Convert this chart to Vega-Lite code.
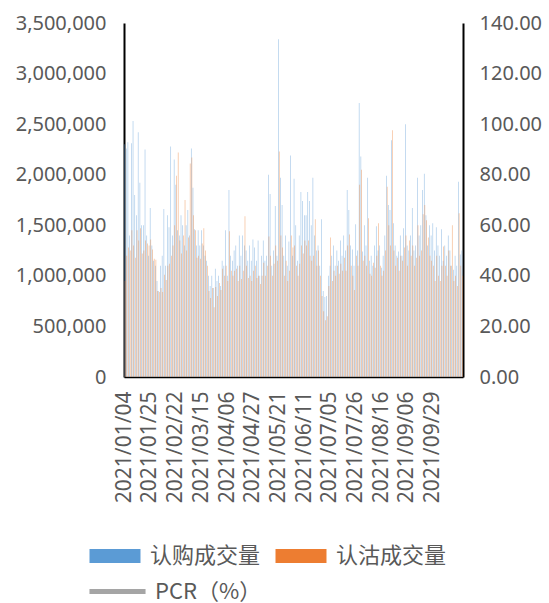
{
"$schema": "https://vega.github.io/schema/vega-lite/v6.json",
"width": 339,
"height": 354,
"autosize": {"type": "none"},
"padding": {"left": 124, "top": 23, "right": 86, "bottom": 226},
"background": "white",
"config": {"view": {"stroke": null}, "font": "Noto Sans"},
"data": {"values": [
{"d":"2021/01/04","call":2300000,"put":950000},
{"d":"2021/01/05","call":2260000,"put":1200000},
{"d":"2021/01/06","call":2320000,"put":1280000},
{"d":"2021/01/07","call":1400000,"put":1250000},
{"d":"2021/01/08","call":2310000,"put":1450000},
{"d":"2021/01/11","call":2530000,"put":1300000},
{"d":"2021/01/12","call":1800000,"put":1180000},
{"d":"2021/01/13","call":1600000,"put":1450000},
{"d":"2021/01/14","call":2420000,"put":1350000},
{"d":"2021/01/15","call":1920000,"put":1470000},
{"d":"2021/01/18","call":1500000,"put":1220000},
{"d":"2021/01/19","call":1500000,"put":1250000},
{"d":"2021/01/20","call":2250000,"put":1350000},
{"d":"2021/01/21","call":1400000,"put":1320000},
{"d":"2021/01/22","call":1200000,"put":1300000},
{"d":"2021/01/25","call":1670000,"put":1360000},
{"d":"2021/01/26","call":1300000,"put":1260000},
{"d":"2021/01/27","call":1150000,"put":1170000},
{"d":"2021/01/28","call":1100000,"put":1160000},
{"d":"2021/01/29","call":950000,"put":850000},
{"d":"2021/02/01","call":850000,"put":840000},
{"d":"2021/02/02","call":1100000,"put":880000},
{"d":"2021/02/03","call":1200000,"put":840000},
{"d":"2021/02/04","call":1660000,"put":1010000},
{"d":"2021/02/05","call":1100000,"put":960000},
{"d":"2021/02/08","call":1600000,"put":1100000},
{"d":"2021/02/09","call":1480000,"put":1120000},
{"d":"2021/02/10","call":2280000,"put":1200000},
{"d":"2021/02/18","call":1400000,"put":1300000},
{"d":"2021/02/19","call":2150000,"put":1500000},
{"d":"2021/02/22","call":1900000,"put":1990000},
{"d":"2021/02/23","call":1450000,"put":2220000},
{"d":"2021/02/24","call":1400000,"put":1350000},
{"d":"2021/02/25","call":1600000,"put":1220000},
{"d":"2021/02/26","call":1500000,"put":1400000},
{"d":"2021/03/01","call":1300000,"put":1750000},
{"d":"2021/03/02","call":1500000,"put":1250000},
{"d":"2021/03/03","call":1650000,"put":1380000},
{"d":"2021/03/04","call":1400000,"put":2110000},
{"d":"2021/03/05","call":2260000,"put":2170000},
{"d":"2021/03/08","call":1870000,"put":1600000},
{"d":"2021/03/09","call":1460000,"put":1450000},
{"d":"2021/03/10","call":1300000,"put":1180000},
{"d":"2021/03/11","call":1450000,"put":1200000},
{"d":"2021/03/12","call":1300000,"put":1170000},
{"d":"2021/03/15","call":1450000,"put":1320000},
{"d":"2021/03/16","call":1300000,"put":1470000},
{"d":"2021/03/17","call":1200000,"put":1250000},
{"d":"2021/03/18","call":1150000,"put":1100000},
{"d":"2021/03/19","call":1000000,"put":850000},
{"d":"2021/03/22","call":900000,"put":780000},
{"d":"2021/03/23","call":1000000,"put":880000},
{"d":"2021/03/24","call":880000,"put":690000},
{"d":"2021/03/25","call":1070000,"put":890000},
{"d":"2021/03/26","call":950000,"put":800000},
{"d":"2021/03/29","call":1000000,"put":930000},
{"d":"2021/03/30","call":900000,"put":860000},
{"d":"2021/03/31","call":1150000,"put":1070000},
{"d":"2021/04/01","call":1100000,"put":1000000},
{"d":"2021/04/02","call":1450000,"put":1100000},
{"d":"2021/04/06","call":1000000,"put":950000},
{"d":"2021/04/07","call":1850000,"put":1440000},
{"d":"2021/04/08","call":1200000,"put":1050000},
{"d":"2021/04/09","call":1150000,"put":1000000},
{"d":"2021/04/12","call":1250000,"put":1050000},
{"d":"2021/04/13","call":1300000,"put":1070000},
{"d":"2021/04/14","call":1100000,"put":950000},
{"d":"2021/04/15","call":1400000,"put":1100000},
{"d":"2021/04/16","call":1200000,"put":970000},
{"d":"2021/04/19","call":1400000,"put":1050000},
{"d":"2021/04/20","call":1300000,"put":1590000},
{"d":"2021/04/21","call":1250000,"put":1100000},
{"d":"2021/04/22","call":1150000,"put":980000},
{"d":"2021/04/23","call":1300000,"put":1000000},
{"d":"2021/04/26","call":1150000,"put":950000},
{"d":"2021/04/27","call":1360000,"put":1050000},
{"d":"2021/04/28","call":1280000,"put":1100000},
{"d":"2021/04/29","call":1150000,"put":980000},
{"d":"2021/04/30","call":1350000,"put":1000000},
{"d":"2021/05/06","call":1000000,"put":920000},
{"d":"2021/05/07","call":1200000,"put":1000000},
{"d":"2021/05/10","call":1350000,"put":1130000},
{"d":"2021/05/11","call":1150000,"put":1000000},
{"d":"2021/05/12","call":1200000,"put":1100000},
{"d":"2021/05/13","call":2000000,"put":1390000},
{"d":"2021/05/14","call":1810000,"put":1200000},
{"d":"2021/05/17","call":1100000,"put":1000000},
{"d":"2021/05/18","call":1250000,"put":1120000},
{"d":"2021/05/19","call":1690000,"put":1300000},
{"d":"2021/05/20","call":1200000,"put":1150000},
{"d":"2021/05/21","call":3340000,"put":2230000},
{"d":"2021/05/24","call":1970000,"put":1400000},
{"d":"2021/05/25","call":1700000,"put":1280000},
{"d":"2021/05/26","call":1200000,"put":1000000},
{"d":"2021/05/27","call":1400000,"put":1150000},
{"d":"2021/05/28","call":1100000,"put":950000},
{"d":"2021/05/31","call":1340000,"put":1050000},
{"d":"2021/06/01","call":2190000,"put":1400000},
{"d":"2021/06/02","call":1200000,"put":1280000},
{"d":"2021/06/03","call":1960000,"put":1300000},
{"d":"2021/06/04","call":1500000,"put":1100000},
{"d":"2021/06/07","call":1150000,"put":1000000},
{"d":"2021/06/08","call":1400000,"put":1120000},
{"d":"2021/06/09","call":1830000,"put":1300000},
{"d":"2021/06/10","call":1740000,"put":1220000},
{"d":"2021/06/11","call":1600000,"put":1350000},
{"d":"2021/06/15","call":1600000,"put":1300000},
{"d":"2021/06/16","call":1830000,"put":1350000},
{"d":"2021/06/17","call":1740000,"put":1200000},
{"d":"2021/06/18","call":1500000,"put":1150000},
{"d":"2021/06/21","call":1970000,"put":1200000},
{"d":"2021/06/22","call":1400000,"put":1560000},
{"d":"2021/06/23","call":1250000,"put":1100000},
{"d":"2021/06/24","call":1300000,"put":1250000},
{"d":"2021/06/25","call":1100000,"put":1000000},
{"d":"2021/06/28","call":1560000,"put":800000},
{"d":"2021/06/29","call":850000,"put":650000},
{"d":"2021/06/30","call":790000,"put":560000},
{"d":"2021/07/01","call":800000,"put":600000},
{"d":"2021/07/02","call":1000000,"put":900000},
{"d":"2021/07/05","call":1100000,"put":1380000},
{"d":"2021/07/06","call":1200000,"put":950000},
{"d":"2021/07/07","call":1300000,"put":1050000},
{"d":"2021/07/08","call":1100000,"put":1000000},
{"d":"2021/07/09","call":1250000,"put":1100000},
{"d":"2021/07/12","call":1150000,"put":1020000},
{"d":"2021/07/13","call":1350000,"put":1120000},
{"d":"2021/07/14","call":1200000,"put":1050000},
{"d":"2021/07/15","call":1400000,"put":1180000},
{"d":"2021/07/16","call":1250000,"put":1050000},
{"d":"2021/07/19","call":1850000,"put":1300000},
{"d":"2021/07/20","call":1650000,"put":1410000},
{"d":"2021/07/21","call":1300000,"put":1100000},
{"d":"2021/07/22","call":1260000,"put":1000000},
{"d":"2021/07/23","call":1100000,"put":860000},
{"d":"2021/07/26","call":1510000,"put":1200000},
{"d":"2021/07/27","call":1250000,"put":1100000},
{"d":"2021/07/28","call":2710000,"put":1900000},
{"d":"2021/07/29","call":2180000,"put":2050000},
{"d":"2021/07/30","call":1240000,"put":1150000},
{"d":"2021/08/02","call":1500000,"put":1200000},
{"d":"2021/08/03","call":1300000,"put":1100000},
{"d":"2021/08/04","call":1970000,"put":1570000},
{"d":"2021/08/05","call":1150000,"put":1020000},
{"d":"2021/08/06","call":1200000,"put":1000000},
{"d":"2021/08/09","call":1100000,"put":1130000},
{"d":"2021/08/10","call":1300000,"put":1080000},
{"d":"2021/08/11","call":1490000,"put":1200000},
{"d":"2021/08/12","call":1250000,"put":1520000},
{"d":"2021/08/13","call":1300000,"put":1100000},
{"d":"2021/08/16","call":1080000,"put":1000000},
{"d":"2021/08/17","call":1200000,"put":1050000},
{"d":"2021/08/18","call":1400000,"put":1250000},
{"d":"2021/08/19","call":1990000,"put":1880000},
{"d":"2021/08/20","call":1700000,"put":1500000},
{"d":"2021/08/23","call":1650000,"put":1300000},
{"d":"2021/08/24","call":2340000,"put":2440000},
{"d":"2021/08/25","call":1520000,"put":1250000},
{"d":"2021/08/26","call":1300000,"put":1100000},
{"d":"2021/08/27","call":1200000,"put":1180000},
{"d":"2021/08/30","call":1240000,"put":1050000},
{"d":"2021/08/31","call":1400000,"put":1200000},
{"d":"2021/09/01","call":1200000,"put":1150000},
{"d":"2021/09/02","call":1470000,"put":1280000},
{"d":"2021/09/03","call":2500000,"put":1400000},
{"d":"2021/09/06","call":1300000,"put":1100000},
{"d":"2021/09/07","call":1250000,"put":1350000},
{"d":"2021/09/08","call":1400000,"put":1200000},
{"d":"2021/09/09","call":1670000,"put":1300000},
{"d":"2021/09/10","call":1250000,"put":1100000},
{"d":"2021/09/13","call":1300000,"put":1180000},
{"d":"2021/09/14","call":1970000,"put":1500000},
{"d":"2021/09/15","call":1400000,"put":1200000},
{"d":"2021/09/16","call":1500000,"put":1250000},
{"d":"2021/09/17","call":1850000,"put":1610000},
{"d":"2021/09/22","call":2010000,"put":1700000},
{"d":"2021/09/23","call":1600000,"put":1550000},
{"d":"2021/09/24","call":1300000,"put":1380000},
{"d":"2021/09/27","call":1500000,"put":1200000},
{"d":"2021/09/28","call":1400000,"put":1150000},
{"d":"2021/09/29","call":1520000,"put":1100000},
{"d":"2021/09/30","call":1250000,"put":950000},
{"d":"2021/10/08","call":1480000,"put":1200000},
{"d":"2021/10/11","call":1300000,"put":1000000},
{"d":"2021/10/12","call":1200000,"put":950000},
{"d":"2021/10/13","call":1460000,"put":1100000},
{"d":"2021/10/14","call":1150000,"put":1290000},
{"d":"2021/10/15","call":1300000,"put":1100000},
{"d":"2021/10/18","call":1200000,"put":1000000},
{"d":"2021/10/19","call":1400000,"put":1250000},
{"d":"2021/10/20","call":1250000,"put":1100000},
{"d":"2021/10/21","call":1100000,"put":1500000},
{"d":"2021/10/22","call":1060000,"put":950000},
{"d":"2021/10/25","call":1200000,"put":1000000},
{"d":"2021/10/26","call":1100000,"put":900000},
{"d":"2021/10/27","call":1930000,"put":1620000},
{"d":"2021/10/28","call":1210000,"put":1100000},
{"d":"2021/10/29","call":1250000,"put":1000000}
]},
"layer": [
{
"transform": [{"fold": ["call", "put"], "as": ["s", "v"]}],
"mark": {"type": "bar", "opacity": 0.6},
"encoding": {
"x": {"field": "d", "type": "ordinal", "sort": null,
"scale": {"paddingInner": 0.3, "paddingOuter": 0.1},
"axis": {"title": null,
"values": ["2021/01/04","2021/01/25","2021/02/22","2021/03/15","2021/04/06","2021/04/27","2021/05/21","2021/06/11","2021/07/05","2021/07/26","2021/08/16","2021/09/06","2021/09/29"],
"labelAngle": -90, "labelFontSize": 21, "labelColor": "#595959", "labelFont": "Noto Sans",
"ticks": false, "domainColor": "#000000", "domainWidth": 1.5, "labelPadding": 14, "grid": false, "labelOverlap": false}},
"xOffset": {"field": "s", "scale": {"domain": ["call", "put"]}},
"y": {"field": "v", "type": "quantitative", "scale": {"domain": [0, 3500000]},
"axis": {"title": null, "values": [0,500000,1000000,1500000,2000000,2500000,3000000,3500000], "format": ",.0f",
"labelFontSize": 20, "labelColor": "#595959", "labelFont": "Noto Sans", "ticks": false, "domainColor": "#000000", "domainWidth": 2, "grid": false, "labelPadding": 18, "labelFlush": false}},
"color": {"field": "s", "type": "nominal",
"scale": {"domain": ["call", "put"], "range": ["#5B9BD5", "#ED7D31"]},
"legend": {"orient": "none", "legendX": -22, "legendY": 520, "title": null, "columns": 2, "direction": "horizontal",
"labelExpr": "datum.value === 'call' ? '认购成交量' : '认沽成交量'",
"labelFont": "Noto Sans CJK SC", "labelFontSize": 22, "labelColor": "#595959",
"symbolSize": 650, "symbolType": "M-2,-0.55H2V0.55H-2Z", "symbolOpacity": 1, "symbolStrokeWidth": 0,
"labelOffset": 22, "columnPadding": 14}}
}
},
{
"mark": {"type": "line", "strokeWidth": 2.5},
"encoding": {
"x": {"field": "d", "type": "ordinal", "sort": null},
"y": {"field": "pcr", "type": "quantitative", "scale": {"domain": [0, 140]},
"axis": {"orient": "right", "title": null, "values": [0,20,40,60,80,100,120,140], "format": ".2f",
"labelFontSize": 20, "labelColor": "#595959", "labelFont": "Noto Sans", "ticks": false, "domainColor": "#000000", "domainWidth": 2, "grid": false, "labelPadding": 16, "labelFlush": false}},
"stroke": {"datum": "PCR（%）", "type": "nominal",
"scale": {"domain": ["PCR（%）"], "range": ["#A5A5A5"]},
"legend": {"orient": "none", "legendX": -22, "legendY": 553, "title": null,
"labelFont": "Noto Sans CJK SC", "labelFontSize": 22, "labelColor": "#595959",
"symbolSize": 650, "symbolType": "M-2.2,0H2.2", "symbolStrokeWidth": 5, "symbolOpacity": 1,
"labelOffset": 22}}
}
}
],
"resolve": {"scale": {"y": "independent"}}
}
